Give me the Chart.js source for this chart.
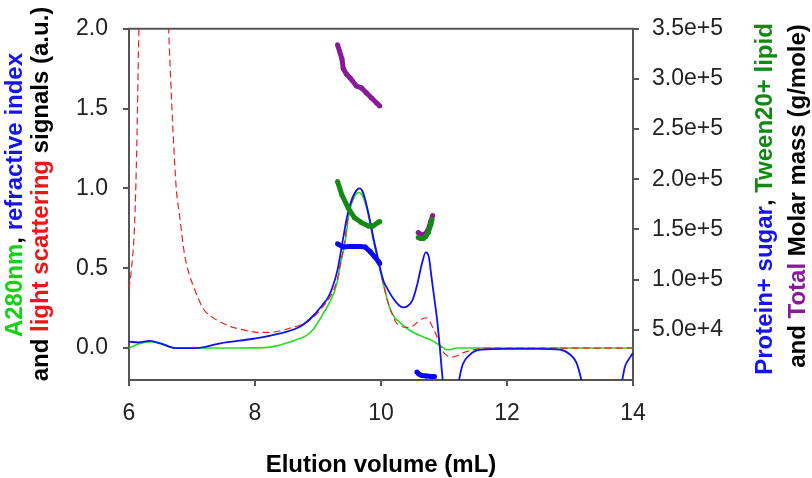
<!DOCTYPE html>
<html>
<head>
<meta charset="utf-8">
<script src="https://cdn.jsdelivr.net/npm/chart.js@4.4.1/dist/chart.umd.min.js"></script>
<style>
  html, body { margin: 0; padding: 0; background: #fff; }
  #wrap { width: 812px; height: 478px; position: relative; }
</style>
</head>
<body>
<div id="wrap"><canvas id="c" width="812" height="478"></canvas></div>
<script>
// ---------- tick labels ----------
const xTicks = [6, 8, 10, 12, 14];
const leftTicks = [0, 0.5, 1.0, 1.5, 2.0];
const rightTicks = [5e4, 1e5, 1.5e5, 2e5, 2.5e5, 3e5, 3.5e5];

// ---------- light scattering (red, dashed) ----------
const lsVolume = [6.00, 6.04, 6.08, 6.10, 6.12, 6.135, 6.15, 6.17, 6.3, 6.45, 6.55, 6.62, 6.66, 6.70, 6.75, 6.80, 6.88, 6.95, 7.02, 7.10, 7.18, 7.30, 7.45, 7.65, 7.84, 8.00, 8.16, 8.30, 8.44, 8.60, 8.71, 8.85, 8.98, 9.10, 9.20, 9.30, 9.37, 9.43, 9.48, 9.55, 9.62, 9.66, 9.72, 9.77, 9.83, 9.88, 9.93, 9.98, 10.04, 10.10, 10.17, 10.24, 10.30, 10.38, 10.45, 10.53, 10.60, 10.67, 10.72, 10.77, 10.82, 10.88, 10.94, 11.00, 11.06, 11.12, 11.20, 11.30, 11.41, 11.55, 11.75, 12.5, 13.2, 13.4, 14.0];
const lsSignal = [0.37, 0.50, 0.70, 0.90, 1.20, 1.50, 1.85, 2.20, 3.5, 3.8, 3.0, 2.10, 1.70, 1.35, 1.00, 0.84, 0.59, 0.47, 0.39, 0.31, 0.245, 0.20, 0.163, 0.13, 0.112, 0.10, 0.098, 0.10, 0.112, 0.13, 0.143, 0.17, 0.214, 0.27, 0.326, 0.42, 0.55, 0.69, 0.836, 0.93, 0.99, 1.00, 0.96, 0.89, 0.79, 0.68, 0.59, 0.50, 0.40, 0.30, 0.22, 0.16, 0.14, 0.13, 0.13, 0.145, 0.17, 0.185, 0.19, 0.17, 0.13, 0.08, 0.01, -0.03, -0.05, -0.057, -0.05, -0.03, -0.016, -0.005, 0.0, 0.0, 0.0, 0.0, 0.0];

// ---------- refractive index (blue) ----------
const riVolume = [6.00, 6.15, 6.33, 6.50, 6.74, 7.07, 7.45, 8.00, 8.38, 8.71, 8.93, 9.07, 9.15, 9.22, 9.31, 9.40, 9.46, 9.51, 9.58, 9.66, 9.72, 9.77, 9.83, 9.88, 9.93, 9.98, 10.04, 10.09, 10.195, 10.28, 10.35, 10.42, 10.50, 10.57, 10.65, 10.71, 10.76, 10.80, 10.85, 10.89, 10.93, 10.98, 11.05, 11.15, 11.24, 11.30, 11.40, 11.50, 11.60, 12.00, 12.50, 12.84, 13.00, 13.10, 13.18, 13.30, 13.70, 13.82, 13.87, 13.95, 14.00];
const riSignal = [0.04, 0.035, 0.045, 0.03, 0.0, 0.0, 0.03, 0.06, 0.09, 0.133, 0.204, 0.27, 0.31, 0.37, 0.49, 0.69, 0.82, 0.90, 0.97, 1.00, 0.97, 0.897, 0.79, 0.69, 0.60, 0.51, 0.42, 0.38, 0.31, 0.27, 0.255, 0.262, 0.30, 0.39, 0.53, 0.60, 0.57, 0.45, 0.30, 0.18, 0.02, -0.20, -0.40, -0.45, -0.20, -0.10, -0.045, -0.018, -0.01, -0.005, -0.005, -0.01, -0.04, -0.09, -0.20, -0.45, -0.45, -0.22, -0.12, -0.06, -0.03];

// ---------- A280nm (green) ----------
const uvVolume = [6.00, 6.15, 6.36, 6.55, 6.74, 7.50, 8.16, 8.35, 8.49, 8.71, 8.82, 8.93, 9.09, 9.15, 9.31, 9.35, 9.42, 9.50, 9.58, 9.65, 9.71, 9.77, 9.88, 9.98, 10.05, 10.14, 10.22, 10.30, 10.46, 10.67, 10.80, 10.88, 10.96, 11.04, 11.10, 11.20, 14.00];
const uvSignal = [0.0, 0.025, 0.04, 0.02, 0.0, 0.0, 0.003, 0.015, 0.03, 0.06, 0.08, 0.12, 0.22, 0.26, 0.42, 0.52, 0.64, 0.856, 0.95, 0.975, 0.95, 0.88, 0.67, 0.50, 0.38, 0.25, 0.19, 0.16, 0.11, 0.07, 0.05, 0.03, 0.01, -0.01, -0.01, 0.0, 0.0];

// ---------- molar masses (right axis) ----------
const totalVol1 = [9.31, 9.38, 9.40, 9.45, 9.51, 9.61, 9.69, 9.77, 9.85, 9.93, 9.98];
const totalMass1 = [3.34e5, 3.20e5, 3.105e5, 3.05e5, 3.01e5, 2.93e5, 2.91e5, 2.86e5, 2.81e5, 2.76e5, 2.73e5];
const totalVol2 = [10.59, 10.63, 10.67, 10.71, 10.75, 10.79, 10.82];
const totalMass2 = [1.47e5, 1.45e5, 1.445e5, 1.46e5, 1.50e5, 1.58e5, 1.64e5];

const lipidVol1 = [9.31, 9.38, 9.48, 9.58, 9.69, 9.80, 9.87, 9.95, 9.98];
const lipidMass1 = [1.979e5, 1.843e5, 1.714e5, 1.617e5, 1.568e5, 1.535e5, 1.535e5, 1.568e5, 1.58e5];
const lipidVol2 = [10.59, 10.63, 10.67, 10.71, 10.75, 10.79, 10.81];
const lipidMass2 = [1.42e5, 1.41e5, 1.41e5, 1.43e5, 1.47e5, 1.55e5, 1.60e5];

const proteinVol1 = [9.31, 9.40, 9.50, 9.60, 9.67, 9.75, 9.83, 9.90, 9.96, 9.98];
const proteinMass1 = [1.357e5, 1.325e5, 1.33e5, 1.33e5, 1.33e5, 1.325e5, 1.277e5, 1.228e5, 1.18e5, 1.16e5];
const proteinVol2 = [10.57, 10.60, 10.65, 10.72, 10.80, 10.85];
const proteinMass2 = [8000, 6000, 4500, 4000, 3500, 3500];

// ---------- titles ----------
const xTitle = 'Elution volume (mL)';
const leftTitle1 = [['A280nm', '#14d214'], [', ', '#000'], ['refractive index', '#1414f0']];
const leftTitle2 = [['and ', '#000'], ['light scattering', '#f01414'], [' signals (a.u.)', '#000']];
const rightTitle1 = [['Protein+ sugar', '#1414f0'], [', ', '#000'], ['Tween20+ lipid', '#108a10']];
const rightTitle2 = [['and ', '#000'], ['Total', '#8a1a9a'], [' Molar mass (g/mole)', '#000']];

function pts(xs, ys) { return xs.map((x, i) => ({ x: x, y: ys[i] })); }
function segs(xa, ya, xb, yb) {
  return pts(xa, ya).concat([{ x: (xa[xa.length - 1] + xb[0]) / 2, y: null }], pts(xb, yb));
}

const TITLE_FONT = 'bold 24px "Liberation Sans", Arial, sans-serif';
function drawRotated(ctx, parts, baseX, centerY) {
  ctx.save();
  ctx.font = TITLE_FONT;
  let total = 0;
  parts.forEach(p => total += ctx.measureText(p[0]).width);
  ctx.translate(baseX, centerY);
  ctx.rotate(-Math.PI / 2);
  ctx.textBaseline = 'alphabetic';
  ctx.textAlign = 'left';
  let x = -total / 2;
  parts.forEach(p => { ctx.fillStyle = p[1]; ctx.fillText(p[0], x, 0); x += ctx.measureText(p[0]).width; });
  ctx.restore();
}

const titlesPlugin = {
  id: 'titles',
  afterDraw(chart) {
    const ctx = chart.ctx;
    const a = chart.chartArea;
    ctx.save();
    ctx.strokeStyle = '#555';
    ctx.lineWidth = 2;
    ctx.beginPath();
    ctx.moveTo(a.left - 1, a.top);
    ctx.lineTo(a.right + 1, a.top);
    ctx.stroke();
    ctx.restore();
    drawRotated(ctx, leftTitle1, 22, 195);
    drawRotated(ctx, leftTitle2, 48, 194);
    drawRotated(ctx, rightTitle1, 772, 199);
    drawRotated(ctx, rightTitle2, 805, 196);
    ctx.save();
    ctx.font = TITLE_FONT;
    ctx.fillStyle = '#000';
    ctx.textAlign = 'center';
    ctx.textBaseline = 'alphabetic';
    ctx.fillText(xTitle, (a.left + a.right) / 2, 472);
    ctx.restore();
  }
};

const TICK_FONT = { family: '"Liberation Sans", Arial, sans-serif', size: 23 };
const axisGrid = { display: true, drawOnChartArea: false, drawTicks: true, tickLength: 6, color: '#555', lineWidth: 2 };
const axisBorder = { display: true, color: '#555', width: 2 };

new Chart(document.getElementById('c'), {
  type: 'line',
  data: {
    datasets: [
      { label: 'Total', data: segs(totalVol1, totalMass1, totalVol2, totalMass2), yAxisID: 'y1',
        borderColor: '#8a1a9a', backgroundColor: '#8a1a9a', borderWidth: 5, pointRadius: 2.5, pointBorderWidth: 0,
        spanGaps: false, order: 3, tension: 0 },
      { label: 'Tween20+ lipid', data: segs(lipidVol1, lipidMass1, lipidVol2, lipidMass2), yAxisID: 'y1',
        borderColor: '#138a13', backgroundColor: '#138a13', borderWidth: 5, pointRadius: 2.5, pointBorderWidth: 0,
        spanGaps: false, order: 2, tension: 0 },
      { label: 'Protein+ sugar', data: segs(proteinVol1, proteinMass1, proteinVol2, proteinMass2), yAxisID: 'y1',
        borderColor: '#0a0af0', backgroundColor: '#0a0af0', borderWidth: 5, pointRadius: 2.5, pointBorderWidth: 0,
        spanGaps: false, order: 1, tension: 0 },
      { label: 'refractive index', data: pts(riVolume, riSignal), yAxisID: 'y',
        borderColor: '#1010f0', borderWidth: 1.8, pointRadius: 0, cubicInterpolationMode: 'monotone', clip: 0, order: 4 },
      { label: 'light scattering', data: pts(lsVolume, lsSignal), yAxisID: 'y',
        borderColor: '#f02020', borderWidth: 1.2, borderDash: [7, 4], pointRadius: 0, cubicInterpolationMode: 'monotone', clip: 0, order: 5 },
      { label: 'A280nm', data: pts(uvVolume, uvSignal), yAxisID: 'y',
        borderColor: '#22e022', borderWidth: 1.6, pointRadius: 0, cubicInterpolationMode: 'monotone', clip: 0, order: 6 }
    ]
  },
  options: {
    responsive: false,
    devicePixelRatio: 1,
    animation: false,
    layout: { padding: { top: 19, left: 0, right: 0, bottom: 0 } },
    plugins: { legend: { display: false }, tooltip: { enabled: false } },
    scales: {
      x: {
        type: 'linear', position: 'bottom', min: 6, max: 14,
        grid: axisGrid, border: axisBorder,
        afterBuildTicks: s => { s.ticks = xTicks.map(v => ({ value: v })); },
        afterFit: s => { s.height = 98; },
        ticks: { font: TICK_FONT, color: '#222', padding: 14, maxRotation: 0, callback: v => String(v) }
      },
      y: {
        type: 'linear', position: 'left', min: -0.2, max: 2.0,
        grid: axisGrid, border: axisBorder,
        afterBuildTicks: s => { s.ticks = leftTicks.map(v => ({ value: v })); },
        afterFit: s => { s.width = 129; },
        ticks: { font: TICK_FONT, color: '#222', padding: 15, callback: v => Number(v).toFixed(1) }
      },
      y1: {
        type: 'linear', position: 'right', min: 0, max: 3.5e5,
        grid: axisGrid, border: axisBorder,
        afterBuildTicks: s => { s.ticks = rightTicks.map(v => ({ value: v })); },
        afterFit: s => { s.width = 179; },
        ticks: { font: TICK_FONT, color: '#222', padding: 13, callback: v => Number(v).toExponential(1) }
      }
    }
  },
  plugins: [titlesPlugin]
});
</script>
</body>
</html>
